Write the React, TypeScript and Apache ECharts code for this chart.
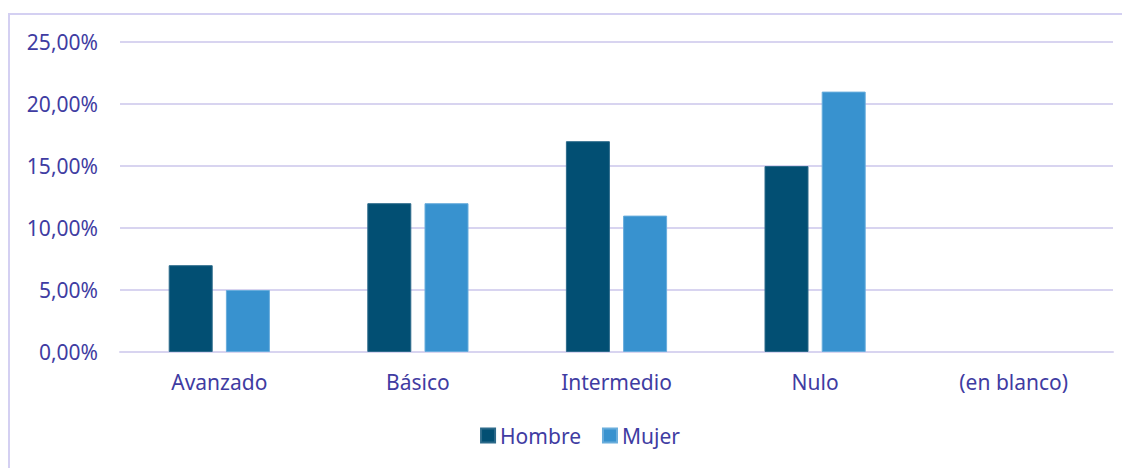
import React, { useEffect, useRef } from "react";
import * as echarts from "echarts";

const categories = ["Avanzado", "Básico", "Intermedio", "Nulo", "(en blanco)"];
const hombre = [7, 12, 17, 15, null];
const mujer = [5, 12, 11, 21, null];
const seriesNames = ["Hombre", "Mujer"];

const TEXT = "#3F3CA2";
const GRID = "#D8D4F0";
const FONT = "'Noto Sans', sans-serif";

export default function App() {
  const ref = useRef<HTMLDivElement>(null);
  useEffect(() => {
    if (!ref.current) return;
    const chart = echarts.init(ref.current, undefined, { renderer: "svg" });
    chart.setOption({
      animation: false,
      textStyle: { fontFamily: FONT },
      grid: { left: 110, right: 37, top: 27, bottom: 133 },
      legend: {
        data: seriesNames,
        top: 405,
        left: "center",
        icon: "rect",
        itemWidth: 14,
        itemHeight: 14,
        itemGap: 21,
        textStyle: { color: TEXT, fontSize: 21, fontFamily: FONT },
      },
      xAxis: {
        type: "category",
        data: categories,
        axisTick: { show: false },
        axisLine: { show: true, lineStyle: { color: GRID, width: 2 } },
        axisLabel: { color: TEXT, fontSize: 21, margin: 19, fontFamily: FONT },
      },
      yAxis: {
        type: "value",
        min: 0,
        max: 25,
        interval: 5,
        axisLabel: {
          color: TEXT,
          fontSize: 21,
          margin: 22,
          fontFamily: FONT,
          formatter: (v: number) => v.toFixed(2).replace(".", ",") + "%",
        },
        splitLine: { lineStyle: { color: GRID, width: 2 } },
        axisLine: { show: false },
        axisTick: { show: false },
      },
      series: [
        {
          name: seriesNames[0],
          type: "bar",
          data: hombre,
          barWidth: 44,
          barGap: "30%",
          itemStyle: { color: "#024F73", borderColor: "#2C6A8A", borderWidth: 1 },
        },
        {
          name: seriesNames[1],
          type: "bar",
          data: mujer,
          barWidth: 44,
          itemStyle: { color: "#3892CF", borderColor: "#69ADDC", borderWidth: 1 },
        },
      ],
    });
    return () => chart.dispose();
  }, []);
  return (
    <div style={{ width: 1122, height: 460, overflow: "hidden" }}>
      <div
        style={{
          marginTop: 5,
          width: 1140,
          height: 470,
          border: "2px solid #D4D0F2",
        }}
      >
        <div ref={ref} style={{ width: 1140, height: 470 }} />
      </div>
    </div>
  );
}
